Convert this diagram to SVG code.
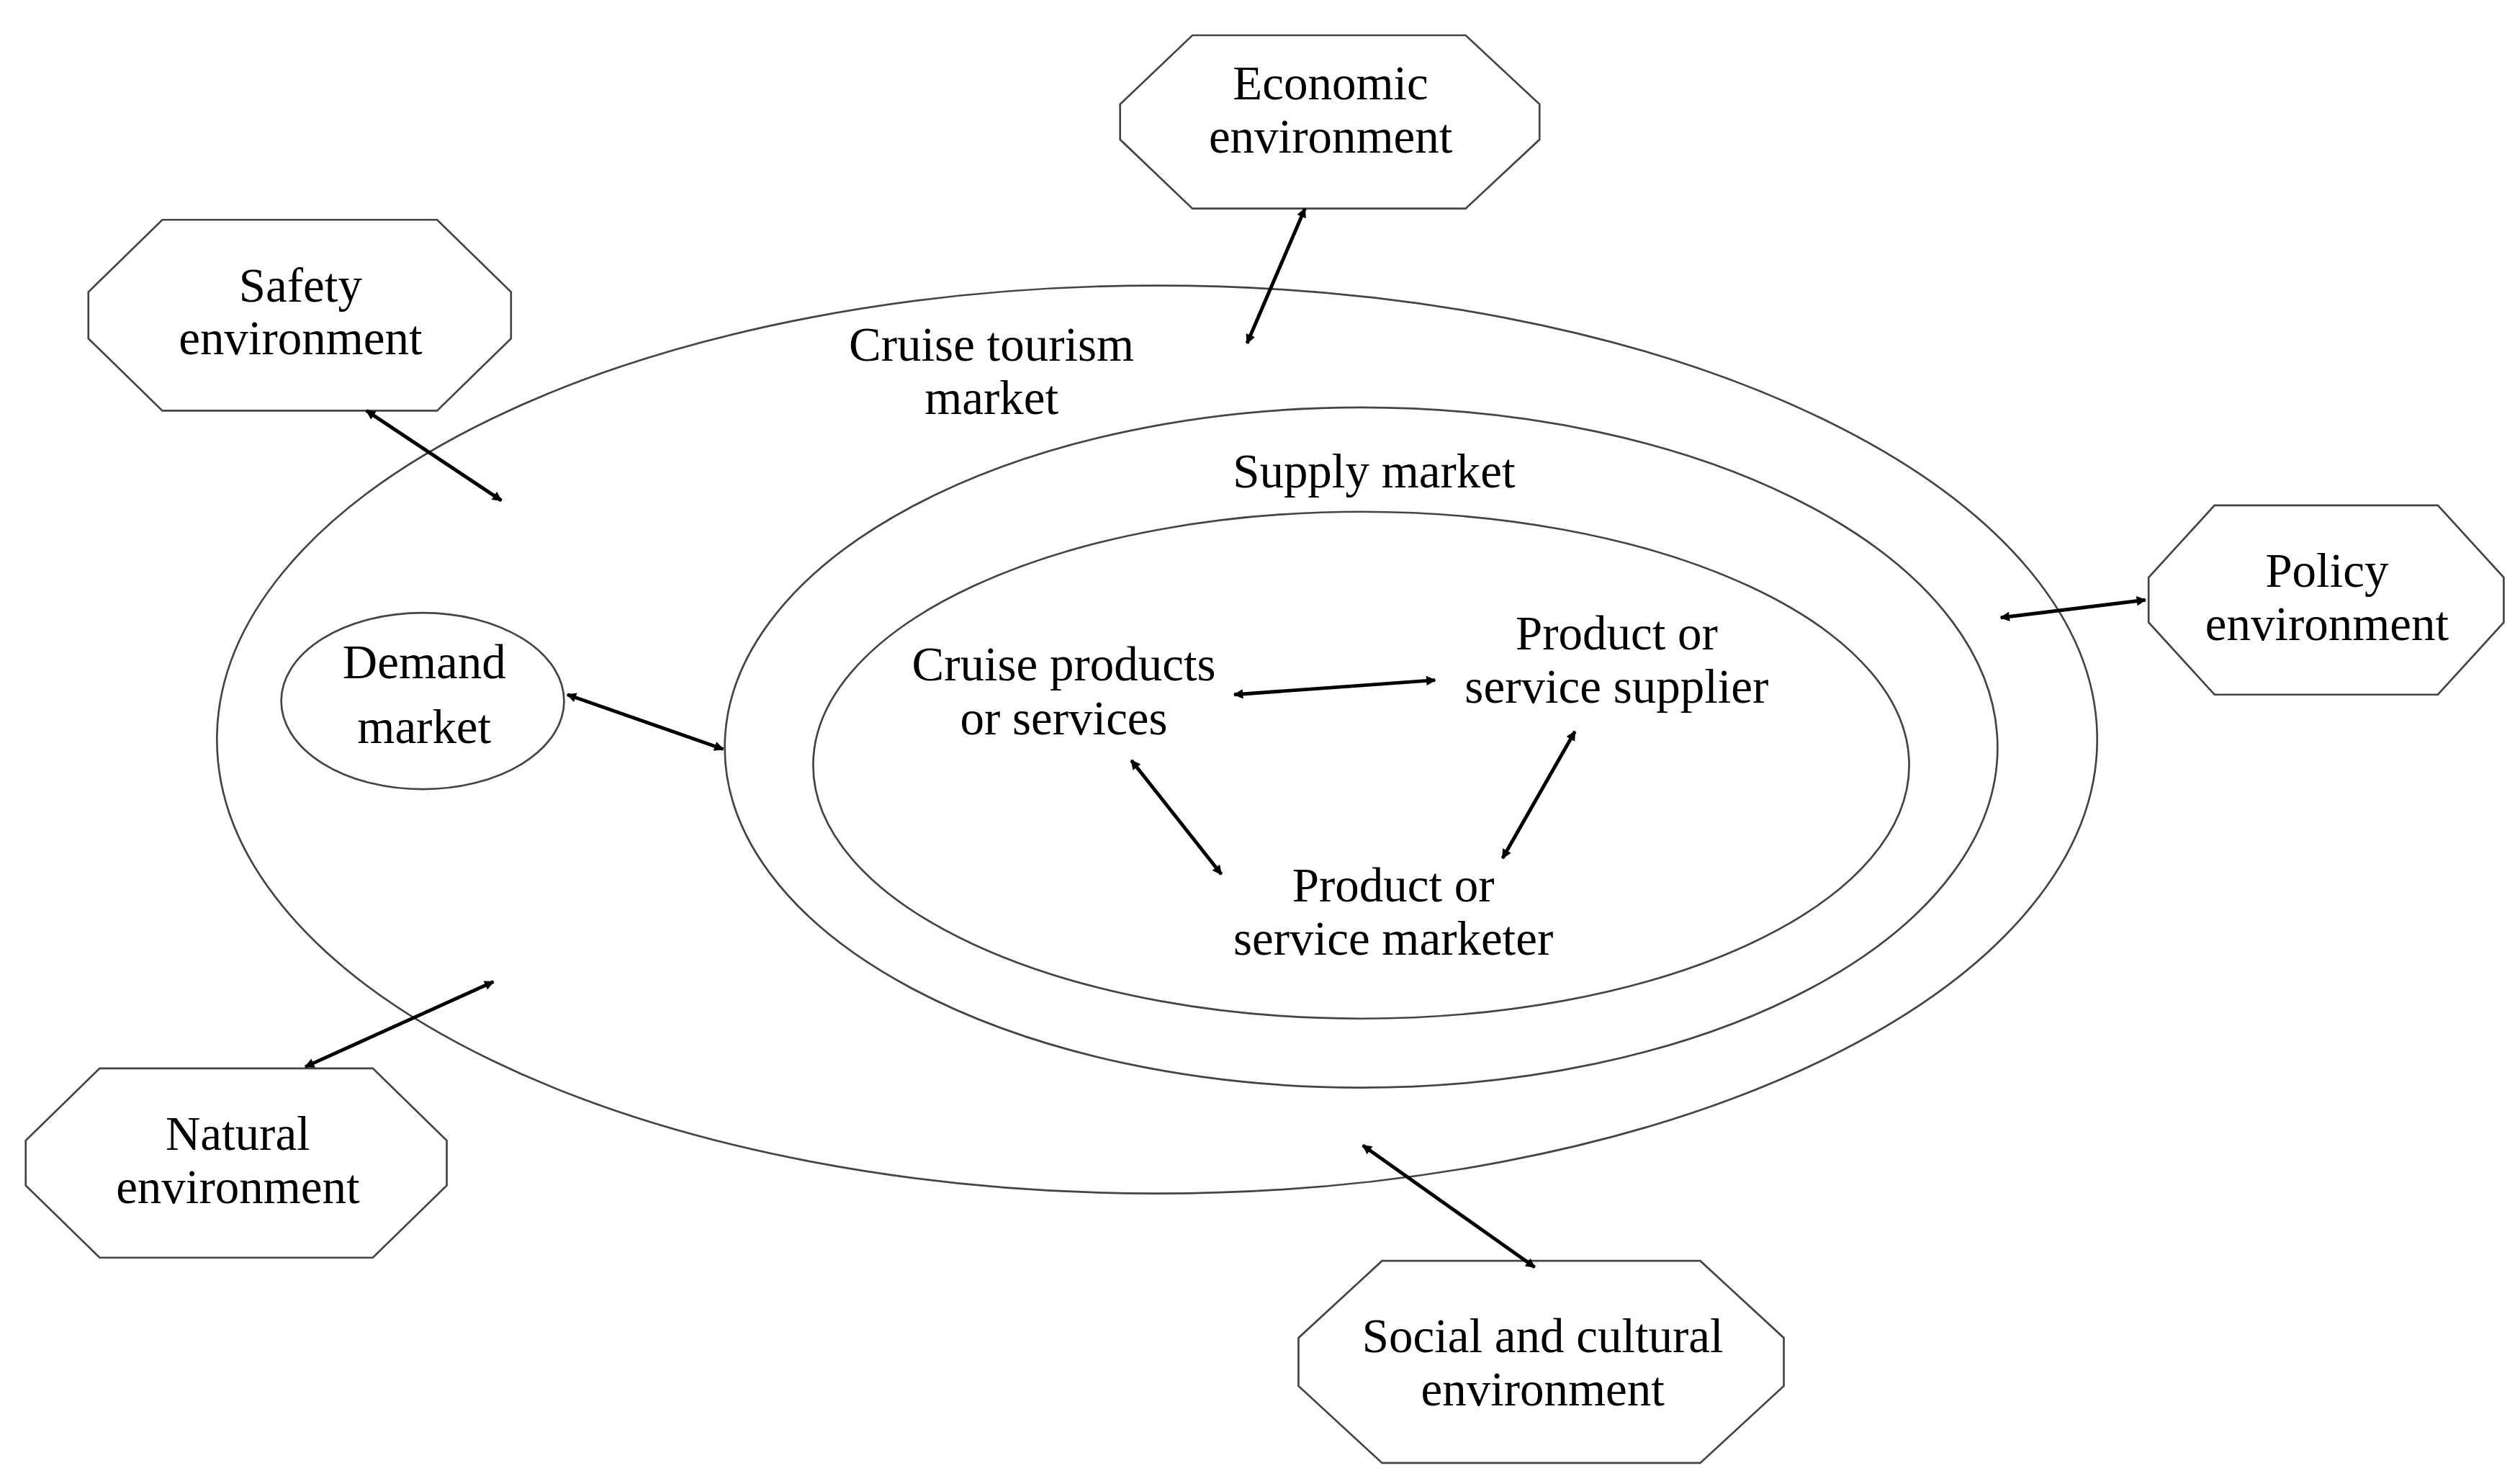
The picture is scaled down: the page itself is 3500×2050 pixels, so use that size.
<svg xmlns="http://www.w3.org/2000/svg" width="3500" height="2050" viewBox="0 0 3500 2050">
<style>
.e{fill:none;stroke:#444;stroke-width:1.2}
.o{fill:#fff;stroke:#444;stroke-width:1.2}
.t{font-family:"Liberation Serif",serif;font-size:30px;fill:#000;text-anchor:middle}
.a{stroke:#000;stroke-width:2.2;marker-start:url(#h);marker-end:url(#h)}
</style>
<defs>
<marker id="h" viewBox="0 0 10 10" refX="9" refY="5" markerWidth="7" markerHeight="6" orient="auto-start-reverse" markerUnits="userSpaceOnUse"><path d="M0,0 L10,5 L0,10 z" fill="#000" transform="scale(1)"/></marker>
</defs>
<rect width="3500" height="2050" fill="#fff"/>
<g transform="scale(2.232,2.228)">
<g id="cruise-tourism-market"><ellipse class="e" cx="720" cy="461" rx="585" ry="283"/><text class="t" x="617" y="225">Cruise tourism</text><text class="t" x="617" y="258">market</text></g>
<g id="supply-market"><ellipse class="e" cx="847" cy="466" rx="396" ry="212"/><text class="t" x="855" y="304">Supply market</text></g>
<g id="inner"><ellipse class="e" cx="847" cy="477" rx="341" ry="158"/></g>
<g id="demand-market"><ellipse class="e" cx="263" cy="437" rx="88" ry="55"/><text class="t" x="264" y="423">Demand</text><text class="t" x="264" y="463">market</text></g>
<g id="cruise-products"><text class="t" x="662" y="424">Cruise products</text><text class="t" x="662" y="458">or services</text></g>
<g id="supplier"><text class="t" x="1006" y="405">Product or</text><text class="t" x="1006" y="438">service supplier</text></g>
<g id="marketer"><text class="t" x="867" y="562">Product or</text><text class="t" x="867" y="595">service marketer</text></g>
<g id="economic"><polygon class="o" points="742,22 912,22 958,65 958,87 912,130 742,130 697,87 697,65"/><text class="t" x="828" y="62">Economic</text><text class="t" x="828" y="95">environment</text></g>
<g id="safety"><polygon class="o" points="101,137 272,137 318,182 318,211 272,256 101,256 55,211 55,182"/><text class="t" x="187" y="188">Safety</text><text class="t" x="187" y="221">environment</text></g>
<g id="policy"><polygon class="o" points="1378,315 1517,315 1558,360 1558,388 1517,433 1378,433 1337,388 1337,360"/><text class="t" x="1448" y="366">Policy</text><text class="t" x="1448" y="399">environment</text></g>
<g id="natural"><polygon class="o" points="62,666 232,666 278,711 278,739 232,784 62,784 16,739 16,711"/><text class="t" x="148" y="717">Natural</text><text class="t" x="148" y="750">environment</text></g>
<g id="social"><polygon class="o" points="860,786 1058,786 1110,834 1110,864 1058,912 860,912 808,864 808,834"/><text class="t" x="960" y="843">Social and cultural</text><text class="t" x="960" y="876">environment</text></g>
<g id="connectors">
<line class="a" x1="812" y1="130" x2="776" y2="214"/>
<line class="a" x1="228" y1="256" x2="312" y2="312"/>
<line class="a" x1="1245" y1="385" x2="1335" y2="374"/>
<line class="a" x1="353" y1="433" x2="450" y2="467"/>
<line class="a" x1="768" y1="433" x2="893" y2="424"/>
<line class="a" x1="704" y1="474" x2="760" y2="545"/>
<line class="a" x1="980" y1="456" x2="935" y2="535"/>
<line class="a" x1="307" y1="612" x2="190" y2="665"/>
<line class="a" x1="848" y1="714" x2="955" y2="790"/>
</g>
</g>
</svg>
